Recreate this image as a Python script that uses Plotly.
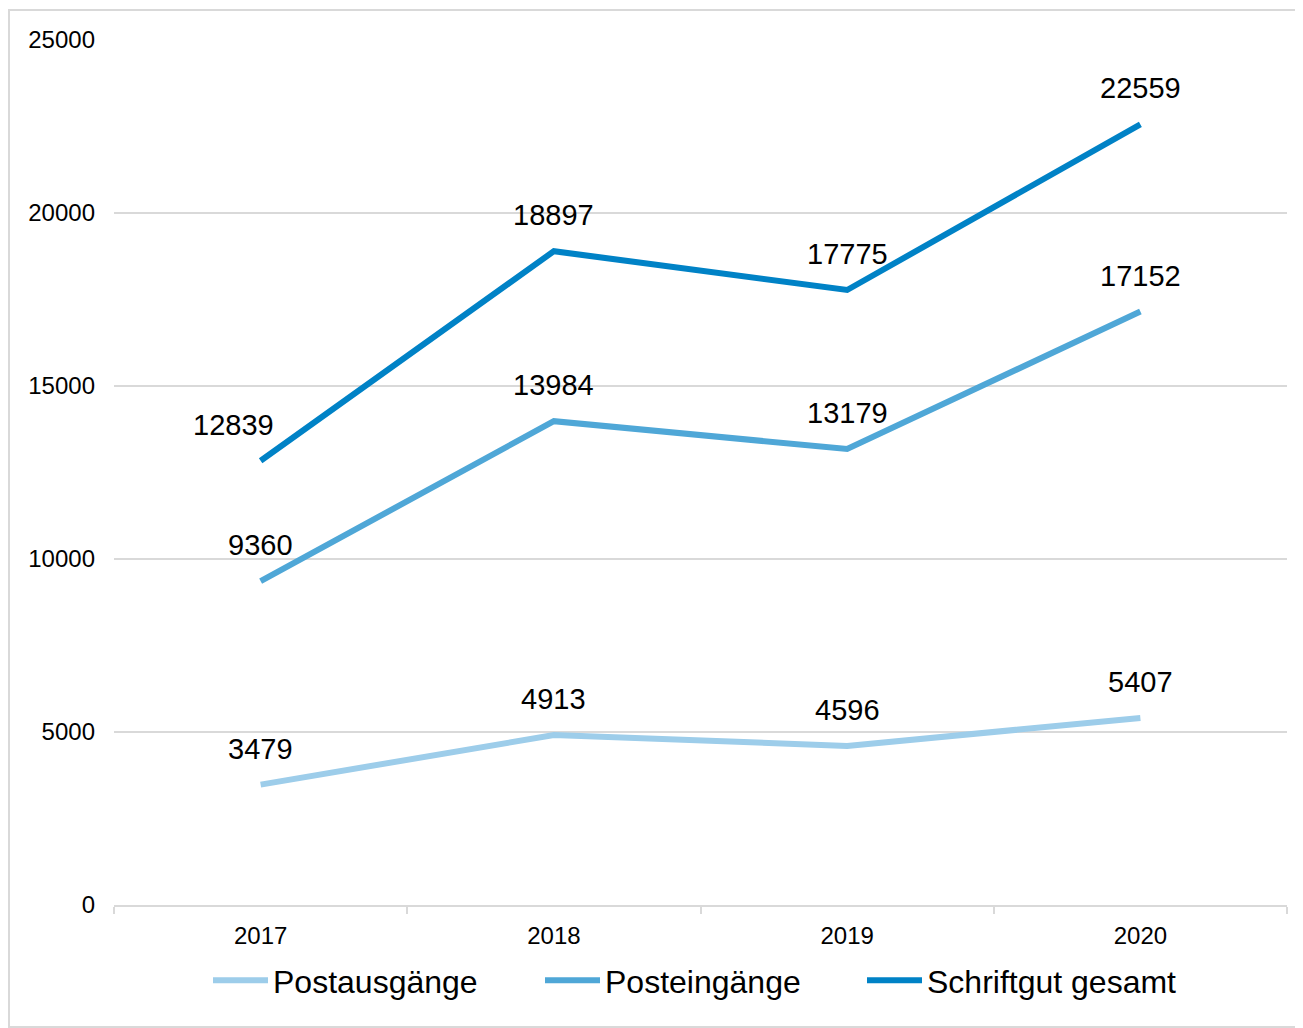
import plotly.graph_objects as go

years = ["2017", "2018", "2019", "2020"]
postausgaenge = [3479, 4913, 4596, 5407]
posteingaenge = [9360, 13984, 13179, 17152]
schriftgut = [12839, 18897, 17775, 22559]

series_names = ["Postausgänge", "Posteingänge", "Schriftgut gesamt"]
series_values = [postausgaenge, posteingaenge, schriftgut]
colors = ["#9DCDEA", "#4FA7D7", "#0082C6"]
legend_widths = [262, 252, 260]

FONT = "Arial, Liberation Sans, sans-serif"

W, H = 1295, 1020
L, R, T, B = 106, 16, 32, 123
PW, PH = W - L - R, H - T - B

fig = go.Figure()
for name, vals, col, lw in zip(series_names, series_values, colors, legend_widths):
    fig.add_trace(go.Scatter(
        x=years, y=vals, name=name, mode="lines",
        line=dict(color=col, width=6), legendwidth=lw,
    ))

annotations = []
for name, vals in zip(series_names, series_values):
    for i, v in enumerate(vals):
        xshift = -27 if (name == "Schriftgut gesamt" and i == 0) else 0
        annotations.append(dict(
            x=i, y=v, xref="x", yref="y", text=str(v), showarrow=False,
            yshift=36, xshift=xshift,
            font=dict(family=FONT, size=29, color="#000000"),
        ))

fig.update_layout(
    width=W, height=H,
    margin=dict(l=L, r=R, t=T, b=B),
    paper_bgcolor="white", plot_bgcolor="white",
    font=dict(family=FONT, color="#000000"),
    annotations=annotations,
    showlegend=True,
    legend=dict(
        orientation="h", x=(213 - 8 - L - 5) / PW, xanchor="left",
        y=-0.0553, yanchor="top",
        font=dict(family=FONT, size=32, color="#000000"),
        itemwidth=55, tracegroupgap=0,
    ),
    shapes=[dict(
        type="rect", xref="paper", yref="paper",
        x0=(1 - L) / PW, x1=(W - 1 - L) / PW,
        y0=(T + PH - (H - 1)) / PH, y1=1 + (T - 2) / PH,
        line=dict(color="#D9D9D9", width=2), fillcolor="rgba(0,0,0,0)",
        layer="below",
    )],
)

fig.update_xaxes(
    type="category", range=[-0.5, 3.5],
    showline=True, linecolor="#D9D9D9", linewidth=2,
    ticks="outside", tickson="boundaries", ticklen=7, tickcolor="#D9D9D9", tickwidth=2,
    showgrid=False, zeroline=False,
    tickfont=dict(family=FONT, size=24, color="#000000"),
    ticklabelstandoff=8,
)
fig.update_yaxes(
    range=[0, 25000], tickvals=[0, 5000, 10000, 15000, 20000, 25000],
    ticktext=["0", "5000", "10000", "15000", "20000", "25000"],
    showgrid=True, gridcolor="#D9D9D9", gridwidth=2,
    showline=False, zeroline=False, ticks="",
    tickfont=dict(family=FONT, size=24, color="#000000"),
    ticklabelstandoff=18,
)

fig.write_html("out.html")
